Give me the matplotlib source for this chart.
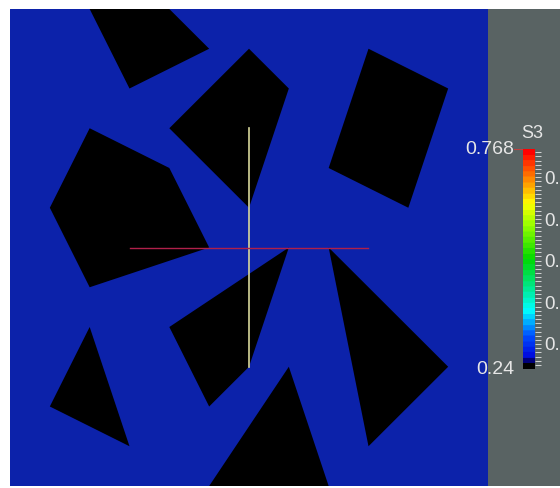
import numpy as np
import matplotlib
matplotlib.use("Agg")
import matplotlib.pyplot as plt
from matplotlib.colors import LinearSegmentedColormap
from matplotlib.patches import Rectangle

# domain and obstacles (domain units, 12 x 12)
domain_size = 12
obstacles = [
    [(2, 12), (4, 12), (5, 11), (3, 10)],
    [(6, 11), (7, 10), (6, 7), (4, 9)],
    [(9, 11), (11, 10), (10, 7), (8, 8)],
    [(2, 9), (4, 8), (5, 6), (2, 5), (1, 7)],
    [(2, 4), (3, 1), (1, 2)],
    [(4, 4), (7, 6), (6, 3), (5, 2)],
    [(8, 6), (11, 3), (9, 1)],
    [(7, 3), (8, 0), (5, 0)],
]
# probe lines
vline_x = 6
vline_y = [3, 9]
hline_y = 6
hline_x = [3, 9]

# colour scale
field_name = "S3"
s_min, s_max = 0.24, 0.768
cbar_ticks = [0.3, 0.4, 0.5, 0.6, 0.7]

plt.rcParams['font.family'] = ['Liberation Sans', 'DejaVu Sans']

W, H = 560, 488
fig = plt.figure(figsize=(W / 100, H / 100), dpi=100)
fig.patch.set_facecolor("white")

blue = "#0c22aa"
grey = "#596363"
txt = "#e6e6e6"

# grey render panel to the right
panel = fig.add_axes([488 / W, 2 / H, 72 / W, 477 / H], zorder=-1)
panel.set_facecolor(grey)
panel.set_xticks([])
panel.set_yticks([])
for sp in panel.spines.values():
    sp.set_visible(False)

ax = fig.add_axes([10 / W, 2 / H, 478 / W, 477 / H])
ax.add_patch(Rectangle((0, 0), domain_size, domain_size, color=blue, zorder=0))
for poly in obstacles:
    xs, ys = zip(*poly)
    ax.fill(xs, ys, color="black", lw=0, zorder=1)
ax.plot([vline_x, vline_x], vline_y, color="#d8d89a", lw=1.2, zorder=2)
ax.plot(hline_x, [hline_y, hline_y], color="#b0204a", lw=1.0, zorder=2)
ax.set_xlim(0, domain_size)
ax.set_ylim(0, domain_size)
ax.axis("off")

# colour bar
cmap = LinearSegmentedColormap.from_list("s3", [
    (0.0, (0, 0, 0)), (0.02, (0, 0, 0)), (0.03, (0, 0, 0.85)),
    (0.14, (0, 0.3, 1)), (0.26, (0, 1, 1)), (0.38, (0, 0.9, 0.5)),
    (0.5, (0, 0.85, 0)), (0.66, (0.6, 1, 0)), (0.76, (1, 1, 0)),
    (0.88, (1, 0.5, 0)), (1.0, (1, 0, 0))], N=40)
cax = fig.add_axes([523 / W, (H - 369) / H, 12 / W, 220 / H], zorder=2)
grad = np.linspace(s_min, s_max, 256).reshape(-1, 1)
cax.imshow(grad, cmap=cmap, aspect="auto", origin="lower",
           extent=[0, 1, s_min, s_max], vmin=s_min, vmax=s_max)
cax.set_xticks([])
cax.yaxis.tick_right()
cax.set_yticks(cbar_ticks)
cax.set_yticklabels([f"{t:.1f}" for t in cbar_ticks])
cax.set_yticks(np.arange(0.25, s_max, 0.01), minor=True)
cax.tick_params(axis="y", which="both", colors=txt, length=4, width=0.6,
                labelsize=13.5, pad=2.5)
for sp in cax.spines.values():
    sp.set_visible(False)

fig.text(514 / W, 1 - 150 / H, f"{s_max:.3f}", color=txt, fontsize=14,
         ha="right", va="center", zorder=3)
fig.text(514 / W, 1 - 370 / H, f"{s_min:.2f}", color=txt, fontsize=14,
         ha="right", va="center", zorder=3)
fig.text(532 / W, 1 - 134 / H, field_name, color=txt, fontsize=13,
         ha="center", va="center", zorder=3)
fig.add_artist(plt.Line2D([514 / W, 522 / W], [1 - 149 / H, 1 - 149 / H],
                          color="#c04040", lw=0.8, transform=fig.transFigure,
                          zorder=3))

fig.savefig("out.png", dpi=100, facecolor="white")
